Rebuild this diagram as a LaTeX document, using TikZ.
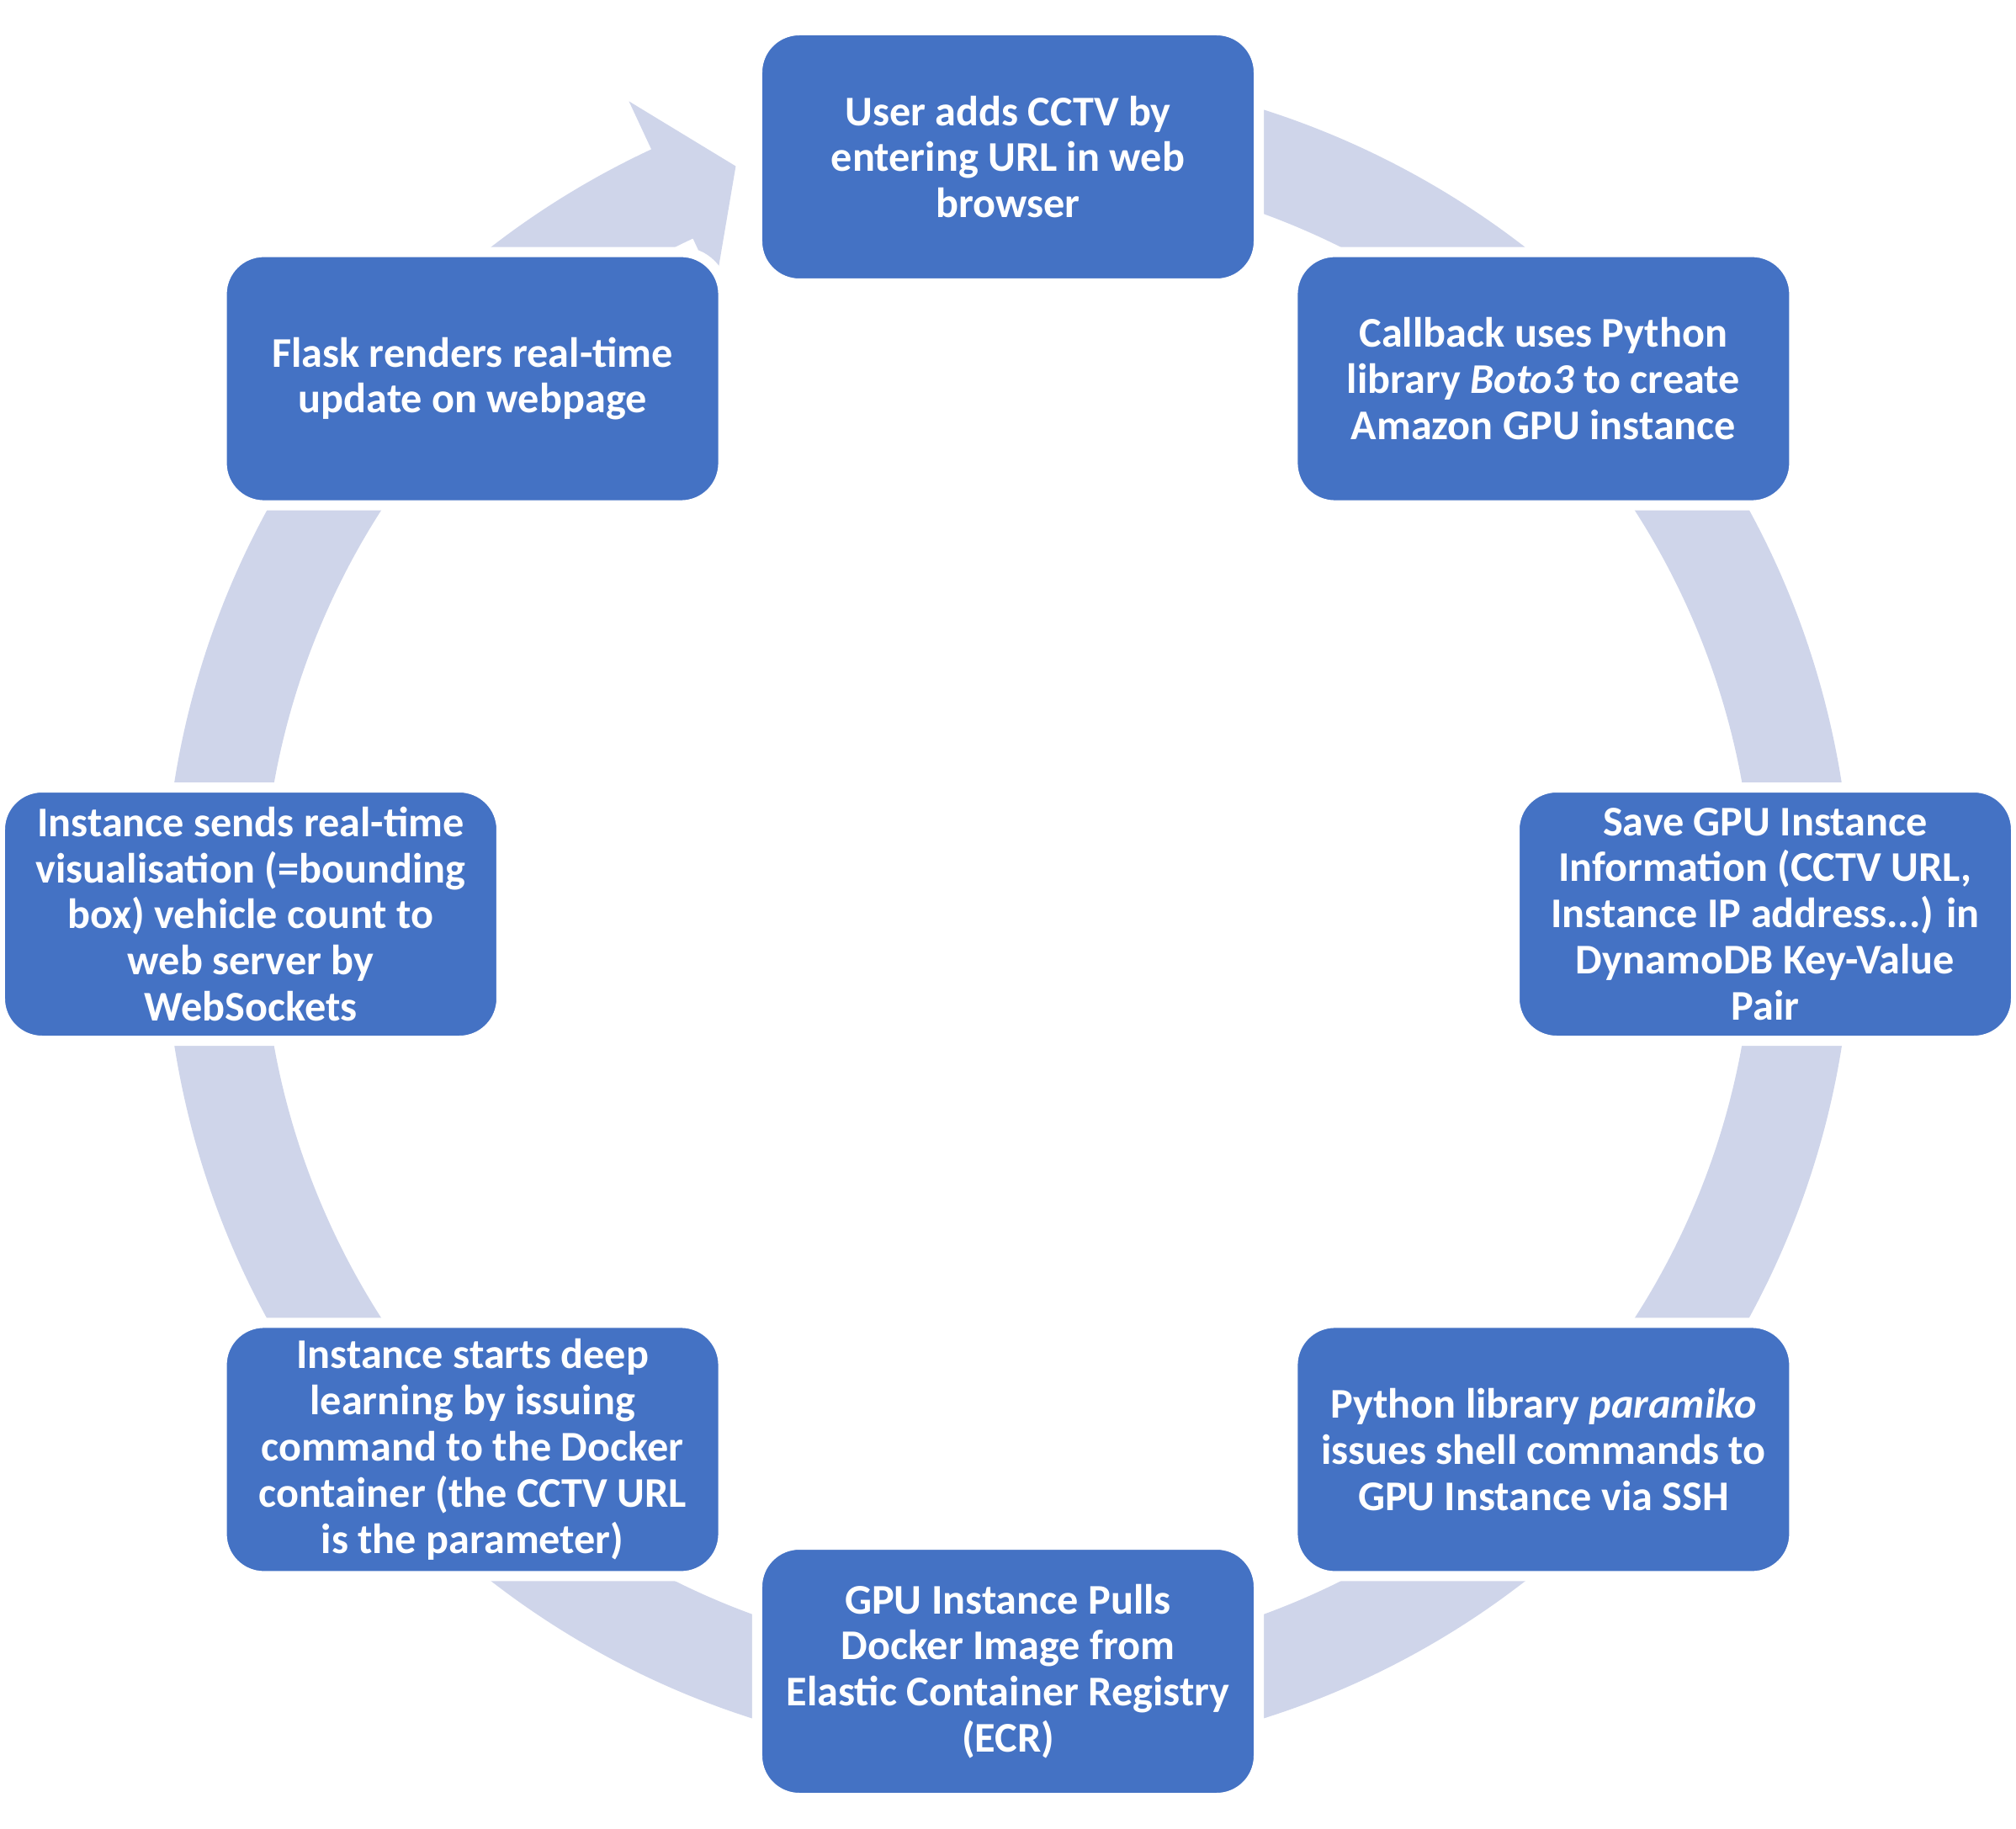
\documentclass[tikz,border=0pt]{standalone}
\usepackage{fontspec}
\setmainfont{Carlito}
\definecolor{boxblue}{HTML}{4472C4}
\definecolor{ringblue}{HTML}{CFD5EA}
\begin{document}
\begin{tikzpicture}[
  stepbox/.style={rectangle, rounded corners=0.5cm, fill=boxblue, draw=white,
    line width=0.12cm, minimum width=5.96cm, minimum height=3.01cm,
    text=white, align=center, inner sep=0pt,
    font=\bfseries\fontsize{14.3}{15.6}\selectfont}
]
\useasboundingbox (-11.98,-10.865) rectangle (11.98,10.865);
\fill[ringblue] (100:10.03) arc[start angle=100, end angle=-245, radius=10.03]
  -- (115:10.66) -- (110:9.46) -- (115:8.23) -- (115:8.86)
  arc[start angle=-245, end angle=100, radius=8.86] -- cycle;
\node[stepbox] (n1) at (90:9) {User adds CCTV by\\entering URL in web\\browser};
\node[stepbox] (n2) at (45:9) {Callback uses Python\\library \textit{Boto3} to create\\Amazon GPU instance};
\node[stepbox] (n3) at (0:9) {Save GPU Instance\\Information (CCTV URL,\\Instance IP address...) in\\DynamoDB Key-Value\\Pair};
\node[stepbox] (n4) at (-45:9) {Python library \textit{paramiko}\\issues shell commands to\\GPU Instance via SSH};
\node[stepbox] (n5) at (-90:9) {GPU Instance Pulls\\Docker Image from\\Elastic Container Registry\\(ECR)};
\node[stepbox] (n6) at (-135:9) {Instance starts deep\\learning by issuing\\command to the Docker\\container (the CCTV URL\\is the parameter)};
\node[stepbox] (n7) at (180:9) {Instance sends real-time\\visualisation (=bounding\\box) vehicle count to\\web server by\\WebSockets};
\node[stepbox] (n8) at (135:9) {Flask renders real-time\\update on webpage};
\end{tikzpicture}
\end{document}
